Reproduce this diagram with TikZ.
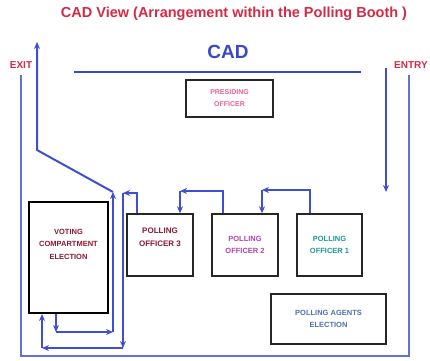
\documentclass[tikz,border=0pt]{standalone}
\usepackage{fontspec}
\setmainfont{Liberation Sans}
\usetikzlibrary{arrows.meta}

\definecolor{titlered}{HTML}{D42A45}
\definecolor{cadblue}{HTML}{3848C8}
\definecolor{flowblue}{HTML}{3E4FCF}
\definecolor{wallblue}{HTML}{6470D8}
\definecolor{presipink}{HTML}{E8609A}
\definecolor{darkred}{HTML}{8A1830}
\definecolor{offmagenta}{HTML}{B040B0}
\definecolor{offteal}{HTML}{1A9A90}
\definecolor{agentblue}{HTML}{5070B0}

\begin{document}
\begin{tikzpicture}[>={Stealth[length=7pt,width=6pt]}, x=1pt, y=-1pt,
	booth/.style={draw=black!85, line width=1.4pt, align=center, inner sep=0pt,
		font=\bfseries\fontsize{7.5}{12.5}\selectfont},
	walk/.style={draw=flowblue, line width=2pt}]
	\useasboundingbox (0,0) rectangle (430,360);

	% labels
	\node[titlered, font=\bfseries\fontsize{14.5}{16}\selectfont] (title) at (234,14) {CAD View (Arrangement within the Polling Booth )};
	\node[cadblue, font=\bfseries\fontsize{19}{21}\selectfont] (cad) at (228,52) {CAD};
	\node[titlered, font=\bfseries\fontsize{10}{12}\selectfont] (exitlbl) at (21,65) {EXIT};
	\node[titlered, font=\bfseries\fontsize{10}{12}\selectfont] (entrylbl) at (411,65) {ENTRY};

	% walls
	\draw[cadblue, line width=2.2pt] (74,72) -- (361,72);
	\draw[wallblue, line width=1.3pt] (21,75) -- (21,356) -- (409,356) -- (409,75);

	% tables
	\node[booth, minimum width=87pt, minimum height=37pt, text=presipink, line width=1.2pt, font=\bfseries\fontsize{7}{12}\selectfont] (presiding) at (229.5,98.5) {PRESIDING\\OFFICER};
	\node[booth, minimum width=79pt, minimum height=111pt, text=darkred, draw=black, line width=2pt] (voting) at (68.5,257.5) {VOTING\\COMPARTMENT\\ELECTION\\[14pt]};
	\node[booth, minimum width=66pt, minimum height=62pt, text=darkred, font=\bfseries\fontsize{8}{13}\selectfont] (off3) at (160,245) {POLLING\\OFFICER 3\\[2pt]};
	\node[booth, minimum width=66pt, minimum height=62pt, text=offmagenta] (off2) at (245,245) {POLLING\\OFFICER 2};
	\node[booth, minimum width=65pt, minimum height=62pt, text=offteal] (off1) at (329.5,245) {POLLING\\OFFICER 1};
	\node[booth, minimum width=115pt, minimum height=50pt, text=agentblue] (agents) at (328.5,319) {POLLING AGENTS\\ELECTION};

	% route of the voter
	\coordinate (entry) at (386,68);
	\coordinate (c0) at (386,192);
	\coordinate (c1) at (262,190);
	\coordinate (c2) at (180,191);
	\coordinate (c3) at (123,193);
	\coordinate (c4) at (123,348);
	\coordinate (c5) at (42,348);
	\coordinate (c6) at (56,332);
	\coordinate (c7) at (113,332);
	\coordinate (c8) at (113,192);
	\coordinate (c9) at (37,150);
	\coordinate (exit) at (37,42);

	\draw[walk, ->, line width=2.4pt] (entry) -- (c0);
	\draw[walk, ->] ([xshift=-19.5pt]off1.north) |- (c1);
	\draw[walk, ->] (c1) -- (c1 |- off2.north);
	\draw[walk, ->] ([xshift=-22pt]off2.north) |- (c2);
	\draw[walk, ->] (c2) -- (c2 |- off3.north);
	\draw[walk, ->] ([xshift=-23pt]off3.north) |- (c3);
	\draw[walk, ->] (c3) -- (c4);
	\draw[walk, ->] (c4) -- (c5);
	\draw[walk, ->] (c5) -- (c5 |- voting.south);
	\draw[walk, ->] ([xshift=-12.5pt]voting.south) -- (c6);
	\draw[walk, ->] (c6) -- (c7);
	\draw[walk, ->] (c7) -- (c8);
	\draw[walk, ->] (c8) -- (c9) -- (exit);
\end{tikzpicture}
\end{document}
